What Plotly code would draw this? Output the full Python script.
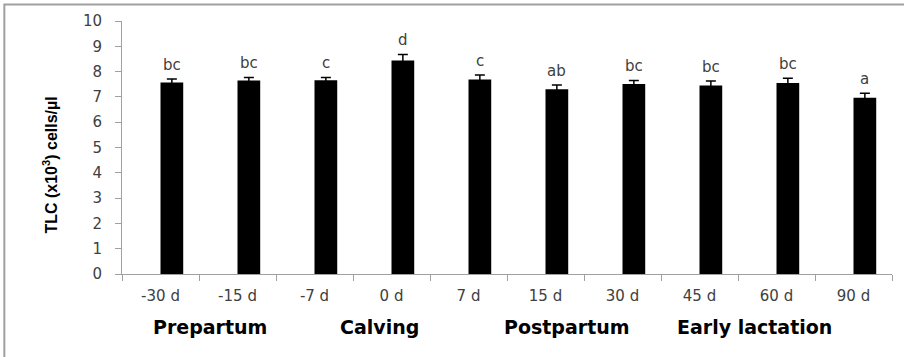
import plotly.graph_objects as go

categories = ["-30 d", "-15 d", "-7 d", "0 d", "7 d", "15 d", "30 d", "45 d", "60 d", "90 d"]
tlc_means = [7.57, 7.65, 7.66, 8.44, 7.69, 7.30, 7.51, 7.45, 7.55, 6.97]
tlc_se = [0.14, 0.12, 0.11, 0.24, 0.18, 0.17, 0.14, 0.18, 0.19, 0.17]
sig_letters = ["bc", "bc", "c", "d", "c", "ab", "bc", "bc", "bc", "a"]
phase_labels = ["Prepartum", "Calving", "Postpartum", "Early lactation"]
phase_positions = [0.64, 2.85, 5.28, 7.71]

BAR_W = 0.295
grey = "#A0A0A0"
txt = "#404040"

fig = go.Figure()
fig.add_trace(go.Bar(
    x=categories, y=tlc_means, width=BAR_W, offset=0,
    marker=dict(color="black", line=dict(width=0)),
    error_y=dict(type="data", array=tlc_se, visible=True, color="black", thickness=1.5, width=5),
    showlegend=False,
))

annotations = []
for i, (v, e, s) in enumerate(zip(tlc_means, tlc_se, sig_letters)):
    annotations.append(dict(x=i + BAR_W / 2, y=v + e, xref="x", yref="y", text=s, showarrow=False,
                            yanchor="bottom", xanchor="center", yshift=3,
                            font=dict(family="DejaVu Sans", size=15, color=txt)))
for lab, pos in zip(phase_labels, phase_positions):
    annotations.append(dict(x=pos, y=-0.211, xref="x", yref="paper", text="<b>" + lab + "</b>", showarrow=False,
                            xanchor="center", yanchor="middle",
                            font=dict(family="DejaVu Sans", size=19, color="black")))
annotations.append(dict(x=-0.093, y=0.43, xref="paper", yref="paper", text="<b>TLC (x10<sup>3</sup>) cells/µl</b>",
                        showarrow=False, textangle=-90, xanchor="center", yanchor="middle",
                        font=dict(family="Liberation Sans", size=16, color="black")))

fig.update_layout(
    width=904, height=357,
    margin=dict(l=122, r=12, t=21, b=83),
    paper_bgcolor="white", plot_bgcolor="white",
    annotations=annotations,
    shapes=[dict(type="rect", xref="paper", yref="paper", x0=-0.1528, x1=1.03, y0=-0.34, y1=1.0653,
                 line=dict(color=grey, width=2), fillcolor="rgba(0,0,0,0)", layer="below")],
)
fig.update_xaxes(type="category", showline=True, linecolor=grey, linewidth=1, showgrid=False,
                 ticks="outside", tickson="boundaries", ticklen=6, tickcolor=grey,
                 ticklabelstandoff=8,
                 tickfont=dict(family="DejaVu Sans", size=15, color=txt), range=[-0.5, 9.5])
fig.update_yaxes(range=[0, 10], dtick=1, showline=True, linecolor=grey, linewidth=1, showgrid=False,
                 ticks="outside", ticklen=6, tickcolor=grey, zeroline=False,
                 ticklabelstandoff=10,
                 tickfont=dict(family="DejaVu Sans", size=15, color=txt))

fig.write_html("out.html", config={"displayModeBar": False},
               post_script="document.body.style.margin='0';")
